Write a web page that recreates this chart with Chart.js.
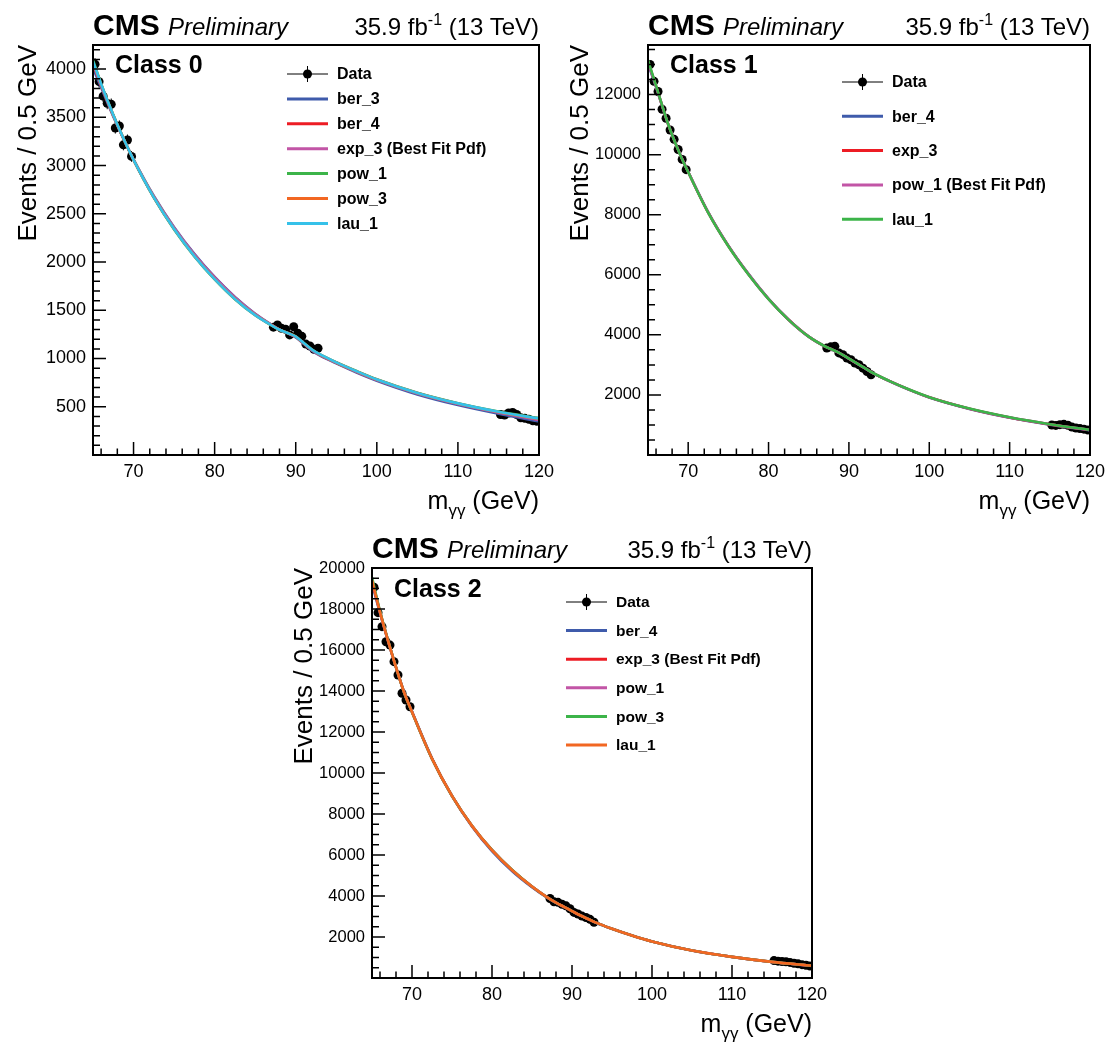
<!DOCTYPE html>
<html>
<head>
<meta charset="utf-8">
<script src="https://cdn.jsdelivr.net/npm/chart.js@4.4.1/dist/chart.umd.min.js"></script>
<style>
  html, body { margin: 0; padding: 0; background: #fff; }
  body { width: 1109px; height: 1043px; position: relative; overflow: hidden;
         font-family: "Liberation Sans", Arial, Helvetica, sans-serif; color: #000; }
  .panel { position: absolute; width: 565px; height: 520px; }
  .panel canvas { position: absolute; left: 0; top: 0; }
  .txt { position: absolute; white-space: nowrap; line-height: 1; }
  .cms { font-weight: bold; font-size: 30px; }
  .prelim { font-style: italic; font-size: 24px; }
  .lumi { font-size: 24px; text-align: right; }
  .cls { font-weight: bold; font-size: 25px; }
  .ytitle { font-size: 26px; width: 300px; height: 26px; line-height: 26px; text-align: right;
            transform-origin: right top; transform: rotate(-90deg); }
  .xtitle { font-size: 25px; text-align: right; }
</style>
</head>
<body>
<script>
// fit curves are sampled on this mass grid (GeV)
const X_FIT = [65, 66, 67.5, 69, 70, 72.5, 75, 77.5, 80, 82.5, 85, 87, 88, 89, 90, 91, 92, 93, 95, 97.5, 100, 105, 110, 115, 120];

// data bins (0.5 GeV wide, sidebands only)
const X_DATA = [65.25, 65.75, 66.25, 66.75, 67.25, 67.75, 68.25, 68.75, 69.25, 69.75,
                87.25, 87.75, 88.25, 88.75, 89.25, 89.75, 90.25, 90.75, 91.25, 91.75, 92.25, 92.75,
                115.25, 115.75, 116.25, 116.75, 117.25, 117.75, 118.25, 118.75, 119.25, 119.75];

// Class 0
const DATA_0 = [4050, 3870, 3720, 3645, 3635, 3390, 3410, 3215, 3265, 3095,
                1325, 1348, 1313, 1303, 1245, 1330, 1262, 1230, 1150, 1130, 1096, 1106,
                420, 415, 435, 440, 420, 385, 380, 370, 355, 350];
const C0_BER3 = [4010, 3810, 3510, 3235, 3065, 2685, 2362, 2085, 1845, 1638, 1465, 1352, 1300, 1262, 1220, 1150, 1082, 1030, 950, 855, 770, 628, 518, 428, 348];
const C0_BER4 = [4050, 3830, 3518, 3234, 3058, 2672, 2348, 2070, 1832, 1626, 1456, 1348, 1299, 1264, 1226, 1157, 1089, 1038, 956, 864, 779, 639, 531, 443, 368];
const C0_EXP3 = [4060, 3835, 3520, 3236, 3062, 2680, 2356, 2078, 1840, 1634, 1462, 1350, 1300, 1263, 1224, 1155, 1087, 1036, 955, 862, 777, 637, 529, 441, 365];
const C0_POW1 = [4095, 3850, 3526, 3237, 3059, 2668, 2338, 2058, 1820, 1615, 1448, 1344, 1297, 1265, 1229, 1161, 1094, 1044, 962, 870, 785, 645, 537, 450, 382];
const C0_POW3 = [4070, 3842, 3522, 3236, 3060, 2673, 2344, 2064, 1826, 1620, 1452, 1346, 1298, 1265, 1227, 1159, 1091, 1041, 959, 867, 782, 642, 534, 446, 375];
const C0_LAU1 = [4080, 3845, 3524, 3236, 3060, 2671, 2342, 2062, 1823, 1618, 1450, 1345, 1298, 1265, 1228, 1160, 1092, 1042, 960, 868, 783, 643, 535, 448, 378];

// Class 1
const DATA_1 = [13000, 12440, 12100, 11510, 11210, 10820, 10510, 10170, 9840, 9500,
                3560, 3600, 3618, 3400, 3340, 3226, 3172, 3060, 3005, 2891, 2780, 2670,
                1000, 985, 1010, 1020, 990, 930, 900, 880, 860, 830];
const C1_BER4 = [13020, 12250, 11020, 10010, 9430, 8080, 6970, 6030, 5200, 4505, 3940, 3615, 3495, 3365, 3205, 3045, 2885, 2725, 2462, 2172, 1915, 1535, 1243, 1012, 820];
const C1_EXP3 = [13100, 12280, 11020, 10004, 9424, 8066, 6956, 6016, 5194, 4502, 3940, 3618, 3498, 3368, 3208, 3048, 2888, 2728, 2467, 2177, 1921, 1541, 1250, 1020, 832];
const C1_POW1 = [13080, 12270, 11022, 10006, 9426, 8070, 6962, 6022, 5198, 4504, 3941, 3619, 3499, 3369, 3209, 3049, 2889, 2729, 2468, 2178, 1922, 1542, 1252, 1022, 834];
const C1_LAU1 = [13150, 12300, 11020, 10000, 9420, 8060, 6950, 6010, 5190, 4500, 3940, 3620, 3500, 3370, 3210, 3050, 2890, 2730, 2470, 2180, 1925, 1545, 1255, 1025, 838];

// Class 2
const DATA_2 = [19060, 17820, 17140, 16400, 16240, 15430, 14780, 13890, 13560, 13230,
                3880, 3720, 3690, 3600, 3520, 3380, 3200, 3120, 3020, 2950, 2860, 2720,
                850, 820, 800, 790, 760, 720, 690, 650, 620, 585];
const C2_BER4 = [19250, 17800, 15790, 13960, 13000, 10720, 8880, 7390, 6190, 5220, 4430, 3895, 3665, 3462, 3258, 3055, 2876, 2698, 2398, 2068, 1778, 1338, 1025, 778, 590];
const C2_EXP3 = [19380, 17845, 15800, 13952, 12982, 10702, 8881, 7418, 6236, 5266, 4458, 3909, 3674, 3469, 3264, 3059, 2879, 2700, 2400, 2070, 1780, 1340, 1029, 784, 598];
const C2_POW1 = [19450, 17870, 15805, 13948, 12975, 10695, 8878, 7422, 6244, 5274, 4462, 3911, 3676, 3471, 3266, 3061, 2881, 2701, 2401, 2071, 1781, 1341, 1031, 786, 602];
const C2_POW3 = [19550, 17900, 15810, 13940, 12968, 10690, 8880, 7428, 6250, 5280, 4466, 3912, 3677, 3472, 3266, 3061, 2881, 2701, 2401, 2071, 1781, 1341, 1031, 787, 603];
const C2_LAU1 = [19400, 17850, 15800, 13950, 12980, 10700, 8880, 7420, 6240, 5270, 4460, 3910, 3675, 3470, 3265, 3060, 2880, 2700, 2400, 2070, 1780, 1340, 1030, 785, 600];

// axes
const X_TICKS = [70, 80, 90, 100, 110, 120];
const Y_TICKS_0 = [500, 1000, 1500, 2000, 2500, 3000, 3500, 4000];
const Y_TICKS_1 = [2000, 4000, 6000, 8000, 10000, 12000];
const Y_TICKS_2 = [2000, 4000, 6000, 8000, 10000, 12000, 14000, 16000, 18000, 20000];

const COL = { blue: '#3f5bab', red: '#ed1c24', magenta: '#c255a6', green: '#3cb449', orange: '#f26722', cyan: '#35c1e9' };
const FONT = '"Liberation Sans", Arial, Helvetica, sans-serif';
const W = 565, H = 520, F_LEFT = 93, F_TOP = 45, F_BOTTOM = 455;

const rootStyle = {
  id: 'rootStyle',
  beforeDatasetsDraw(chart) {
    const { ctx, scales: { x, y } } = chart;
    const ds = chart.data.datasets.find(d => d.isData);
    ctx.save();
    ctx.strokeStyle = '#000';
    ctx.lineWidth = 1;
    ds.data.forEach(p => {
      const px = x.getPixelForValue(p.x), py = y.getPixelForValue(p.y);
      const e = Math.sqrt(p.y);
      ctx.beginPath();
      ctx.moveTo(px, y.getPixelForValue(p.y - e));
      ctx.lineTo(px, y.getPixelForValue(p.y + e));
      ctx.moveTo(x.getPixelForValue(p.x - 0.25), py);
      ctx.lineTo(x.getPixelForValue(p.x + 0.25), py);
      ctx.stroke();
    });
    ctx.restore();
  },
  afterDraw(chart, args, o) {
    const { ctx, chartArea: a, scales: { x, y } } = chart;
    ctx.save();
    // frame
    ctx.strokeStyle = '#000';
    ctx.lineWidth = 2;
    ctx.strokeRect(a.left, a.top, a.right - a.left, a.bottom - a.top);
    // inward ticks on the bottom and left axes
    ctx.lineWidth = 1.5;
    ctx.beginPath();
    for (let v = 66; v < 120; v += 2) {
      const px = x.getPixelForValue(v), len = v % 10 === 0 ? 13 : 6.5;
      ctx.moveTo(px, a.bottom);
      ctx.lineTo(px, a.bottom - len);
    }
    for (let v = o.yMinor; v < y.max; v += o.yMinor) {
      const py = y.getPixelForValue(v), len = o.yTicks.includes(v) ? 13 : 7;
      ctx.moveTo(a.left, py);
      ctx.lineTo(a.left + len, py);
    }
    ctx.stroke();
    // legend
    ctx.font = `bold ${o.legFont}px ${FONT}`;
    ctx.textBaseline = 'middle';
    ctx.textAlign = 'left';
    ctx.fillStyle = '#000';
    chart.data.datasets.forEach((d, k) => {
      const yy = o.legY + k * o.legDy;
      const x0 = 287, x1 = 328, xm = (x0 + x1) / 2;
      ctx.beginPath();
      if (d.isData) {
        ctx.strokeStyle = '#000';
        ctx.lineWidth = 1;
        ctx.moveTo(x0, yy); ctx.lineTo(x1, yy);
        ctx.moveTo(xm, yy - 8); ctx.lineTo(xm, yy + 8);
        ctx.stroke();
        ctx.beginPath();
        ctx.arc(xm, yy, 4.5, 0, Math.PI * 2);
        ctx.fill();
      } else {
        ctx.strokeStyle = d.borderColor;
        ctx.lineWidth = 3;
        ctx.moveTo(x0, yy); ctx.lineTo(x1, yy);
        ctx.stroke();
      }
      ctx.fillText(d.label, 337, yy + 1);
    });
    ctx.restore();
  }
};

function pts(xs, ys) {
  return xs.map((v, i) => ({ x: v, y: ys[i] }));
}

function makePanel(p) {
  const fr = p.right;
  const wrap = document.createElement('div');
  wrap.className = 'panel';
  wrap.style.left = p.left + 'px';
  wrap.style.top = p.top + 'px';
  const cv = document.createElement('canvas');
  cv.width = W;
  cv.height = H;
  wrap.appendChild(cv);

  wrap.insertAdjacentHTML('beforeend', `
    <div class="txt cms" style="left:${F_LEFT}px; top:10px">CMS</div>
    <div class="txt prelim" style="left:${F_LEFT + 75}px; top:15px">Preliminary</div>
    <div class="txt lumi" style="right:${W - fr}px; top:15px">35.9 fb<span style="font-size:16px; position:relative; top:-10px">-1</span> (13 TeV)</div>
    <div class="txt cls" style="left:${F_LEFT + 22}px; top:${p.clsTop}px">${p.cls}</div>
    <div class="txt ytitle" style="left:${F_LEFT - p.yTitleDx - 313}px; top:${F_TOP}px">Events / 0.5 GeV</div>
    <div class="txt xtitle" style="right:${W - fr}px; top:${F_BOTTOM + 33}px">m<span style="font-size:17px; position:relative; top:7px">γγ</span> (GeV)</div>
  `);
  document.body.appendChild(wrap);

  const datasets = [{
    label: 'Data',
    isData: true,
    data: pts(X_DATA, p.data),
    showLine: false,
    pointRadius: 4.5,
    pointBackgroundColor: '#000',
    pointBorderWidth: 0,
    order: 100
  }];
  p.curves.forEach((c, i) => {
    datasets.push({
      label: c.label,
      data: pts(X_FIT, c.values),
      showLine: true,
      borderColor: c.color,
      borderWidth: 2.6,
      pointRadius: 0,
      cubicInterpolationMode: 'monotone',
      order: p.curves.length - i
    });
  });

  new Chart(cv.getContext('2d'), {
    type: 'scatter',
    data: { datasets },
    options: {
      responsive: false,
      animation: false,
      events: [],
      devicePixelRatio: 1,
      layout: { padding: { top: F_TOP, right: W - fr, left: 0, bottom: 0 } },
      scales: {
        x: {
          type: 'linear', min: 65, max: 120,
          grid: { display: false, drawTicks: false },
          border: { display: false },
          afterBuildTicks: s => { s.ticks = X_TICKS.map(v => ({ value: v })); },
          afterFit: s => { s.height = H - F_BOTTOM; s.paddingLeft = 0; s.paddingRight = 0; },
          ticks: { color: '#000', padding: 6, maxRotation: 0, autoSkip: false,
                   font: { family: FONT, size: 18 }, callback: v => String(v) }
        },
        y: {
          type: 'linear', min: 0, max: p.yMax,
          grid: { display: false, drawTicks: false },
          border: { display: false },
          afterBuildTicks: s => { s.ticks = p.yTicks.map(v => ({ value: v })); },
          afterFit: s => { s.width = F_LEFT; s.paddingTop = 0; s.paddingBottom = 0; },
          ticks: { color: '#000', padding: 7, autoSkip: false,
                   font: { family: FONT, size: p.yFont }, callback: v => String(v) }
        }
      },
      plugins: {
        legend: { display: false },
        tooltip: { enabled: false },
        rootStyle: { yTicks: p.yTicks, yMinor: p.yMinor, legY: p.legY, legDy: p.legDy, legFont: p.legFont }
      }
    },
    plugins: [rootStyle]
  });
}

makePanel({
  left: 0, top: 0, right: 539, cls: 'Class 0', clsTop: 52, data: DATA_0, yMax: 4250, yTicks: Y_TICKS_0, yMinor: 100,
  yFont: 18, yTitleDx: 66, legY: 74, legDy: 24.9, legFont: 16,
  curves: [
    { label: 'ber_3', color: COL.blue, values: C0_BER3 },
    { label: 'ber_4', color: COL.red, values: C0_BER4 },
    { label: 'exp_3 (Best Fit Pdf)', color: COL.magenta, values: C0_EXP3 },
    { label: 'pow_1', color: COL.green, values: C0_POW1 },
    { label: 'pow_3', color: COL.orange, values: C0_POW3 },
    { label: 'lau_1', color: COL.cyan, values: C0_LAU1 }
  ]
});

makePanel({
  left: 555, top: 0, right: 535, cls: 'Class 1', clsTop: 52, data: DATA_1, yMax: 13650, yTicks: Y_TICKS_1, yMinor: 500,
  yFont: 16.5, yTitleDx: 69, legY: 82, legDy: 34.3, legFont: 16,
  curves: [
    { label: 'ber_4', color: COL.blue, values: C1_BER4 },
    { label: 'exp_3', color: COL.red, values: C1_EXP3 },
    { label: 'pow_1 (Best Fit Pdf)', color: COL.magenta, values: C1_POW1 },
    { label: 'lau_1', color: COL.green, values: C1_LAU1 }
  ]
});

makePanel({
  left: 279, top: 523, right: 533, cls: 'Class 2', clsTop: 53, data: DATA_2, yMax: 20000, yTicks: Y_TICKS_2, yMinor: 500,
  yFont: 16.5, yTitleDx: 69, legY: 79, legDy: 28.6, legFont: 15.5,
  curves: [
    { label: 'ber_4', color: COL.blue, values: C2_BER4 },
    { label: 'exp_3 (Best Fit Pdf)', color: COL.red, values: C2_EXP3 },
    { label: 'pow_1', color: COL.magenta, values: C2_POW1 },
    { label: 'pow_3', color: COL.green, values: C2_POW3 },
    { label: 'lau_1', color: COL.orange, values: C2_LAU1 }
  ]
});
</script>
</body>
</html>
